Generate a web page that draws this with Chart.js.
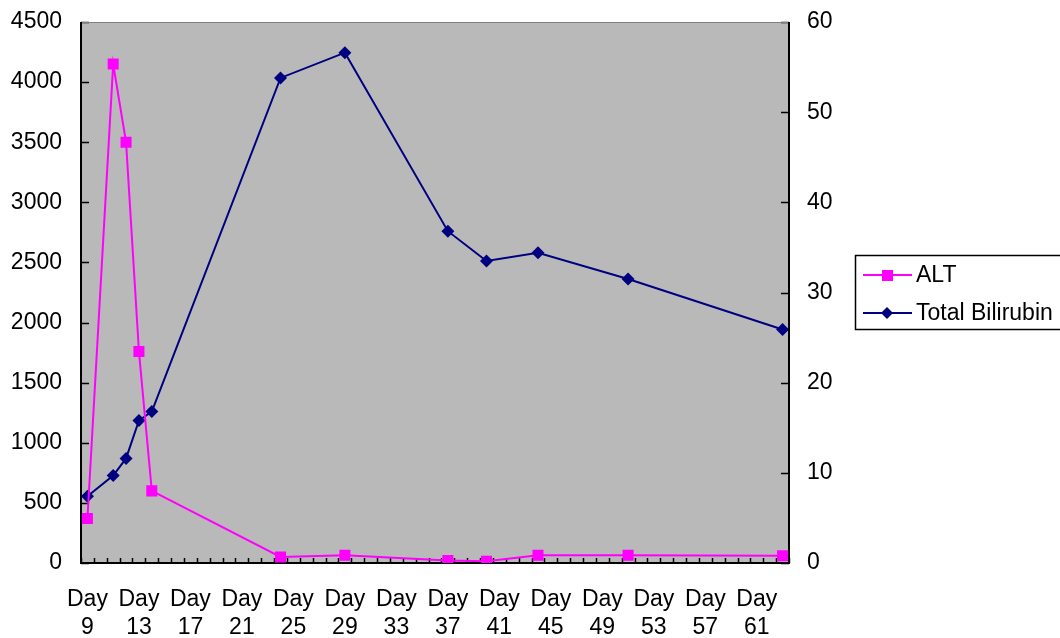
<!DOCTYPE html>
<html>
<head>
<meta charset="utf-8">
<script src="https://cdn.jsdelivr.net/npm/chart.js@4/dist/chart.umd.min.js"></script>
<style>
  html, body { margin: 0; padding: 0; background: #fff; }
</style>
</head>
<body>
<canvas id="myChart" width="1060" height="638"></canvas>
<script>
// x categories: one per day, Day 9 .. Day 63, labelled every 4th
const firstDay = 9
const lastDay = 63
const dayLabels = []
for (let d = firstDay; d <= lastDay; d++) dayLabels.push("Day " + d)

const sampleDays = [9, 11, 12, 13, 14, 24, 29, 37, 40, 44, 51, 63]
const altValues = [370, 4150, 3500, 1760, 600, 50, 65, 20, 15, 65, 65, 60]
const bilirubinValues = [7.4, 9.7, 11.6, 15.8, 16.8, 53.8, 56.6, 36.8, 33.5, 34.4, 31.5, 25.9]

const seriesNames = ["ALT", "Total Bilirubin"]
const seriesColors = ["#ff00ff", "#000080"]

const FONT = "'Liberation Sans', Arial, sans-serif"

const toPoints = values => values.map((v, i) => ({ x: "Day " + sampleDays[i], y: v }))

// gray plot area, inside tick marks, frame and the boxed legend
const frame = {
  id: "frame",
  beforeDraw(chart) {
    const { ctx, chartArea: a } = chart
    ctx.save()
    ctx.fillStyle = "#b9b9b9"
    ctx.fillRect(a.left, a.top, a.right - a.left, a.bottom - a.top)
    ctx.restore()
  },
  beforeDatasetsDraw(chart) {
    const { ctx, chartArea: a, scales } = chart
    ctx.save()
    ctx.strokeStyle = "#000"
    ctx.lineWidth = 1.5
    ctx.beginPath()
    scales.y.ticks.forEach(t => {
      const py = Math.round(scales.y.getPixelForValue(t.value)) + 0.5
      ctx.moveTo(a.left, py); ctx.lineTo(a.left + 8, py)
    })
    scales.y1.ticks.forEach(t => {
      const py = Math.round(scales.y1.getPixelForValue(t.value)) + 0.5
      ctx.moveTo(a.right - 8, py); ctx.lineTo(a.right, py)
    })
    const n = dayLabels.length
    const half = (scales.x.getPixelForValue(1) - scales.x.getPixelForValue(0)) / 2
    for (let i = 0; i <= n; i++) {
      const px = Math.round(i < n ? scales.x.getPixelForValue(i) - half : scales.x.getPixelForValue(n - 1) + half) + 0.5
      ctx.moveTo(px, a.bottom - 5); ctx.lineTo(px, a.bottom)
    }
    ctx.stroke()

    ctx.strokeStyle = "#808080"
    ctx.lineWidth = 1
    ctx.beginPath()
    ctx.moveTo(a.left, a.top + 0.5); ctx.lineTo(a.right, a.top + 0.5)
    ctx.stroke()

    ctx.strokeStyle = "#000"
    ctx.lineWidth = 2
    ctx.beginPath()
    ctx.moveTo(a.left, a.top); ctx.lineTo(a.left, a.bottom)
    ctx.lineTo(a.right, a.bottom); ctx.lineTo(a.right, a.top)
    ctx.stroke()
    ctx.restore()
  },
  afterDraw(chart) {
    const ctx = chart.ctx
    ctx.save()
    ctx.strokeStyle = "#000"
    ctx.lineWidth = 1.5
    ctx.strokeRect(855.5, 255.5, 240, 74)
    ctx.font = "23px " + FONT
    ctx.textBaseline = "middle"
    ctx.fillStyle = "#000"
    const rows = [275, 313]
    chart.data.datasets.forEach((ds, i) => {
      const y = rows[i]
      ctx.strokeStyle = ds.borderColor
      ctx.lineWidth = 2
      ctx.beginPath(); ctx.moveTo(863, y); ctx.lineTo(912, y); ctx.stroke()
      ctx.fillStyle = ds.backgroundColor
      ctx.beginPath()
      if (i === 0) {
        ctx.rect(882, y - 5, 11, 11)
      } else {
        ctx.moveTo(887, y - 6); ctx.lineTo(893, y); ctx.lineTo(887, y + 6); ctx.lineTo(881, y)
        ctx.closePath()
      }
      ctx.fill()
      ctx.fillStyle = "#000"
      ctx.fillText(ds.label, 916, y + 1)
    })
    ctx.restore()
  }
}

const plainNumber = v => String(v)
const fixWidth = w => scale => {
  scale.width = w
  scale.paddingTop = 0
  scale.paddingBottom = 0
}

new Chart(document.getElementById("myChart").getContext("2d"), {
  type: "line",
  data: {
    labels: dayLabels,
    datasets: [
      {
        label: seriesNames[0],
        data: toPoints(altValues),
        yAxisID: "y",
        borderColor: seriesColors[0],
        backgroundColor: seriesColors[0],
        borderWidth: 2,
        pointStyle: "rect",
        pointRadius: 7.8,
        pointBorderWidth: 0,
        tension: 0
      },
      {
        label: seriesNames[1],
        data: toPoints(bilirubinValues),
        yAxisID: "y1",
        borderColor: seriesColors[1],
        backgroundColor: seriesColors[1],
        borderWidth: 2,
        pointStyle: "rectRot",
        pointRadius: 6.5,
        pointBorderWidth: 0,
        tension: 0
      }
    ]
  },
  options: {
    responsive: false,
    animation: false,
    devicePixelRatio: 1,
    layout: { padding: { top: 22, left: 0, right: 0, bottom: 0 } },
    plugins: { legend: { display: false }, tooltip: { enabled: false } },
    scales: {
      x: {
        type: "category",
        offset: true,
        grid: { display: false, drawTicks: false },
        border: { display: false },
        afterFit: scale => {
          scale.height = 75
          scale.paddingLeft = 0
          scale.paddingRight = 0
        },
        ticks: {
          autoSkip: false,
          maxRotation: 0,
          padding: 22,
          color: "#000",
          font: { family: FONT, size: 23, lineHeight: 1.25 },
          callback: (val, i) => (i % 4 === 0 ? dayLabels[i].split(" ") : "")
        }
      },
      y: {
        position: "left",
        min: 0,
        max: 4500,
        grid: { display: false, drawTicks: false },
        border: { display: false },
        afterFit: fixWidth(81),
        ticks: { stepSize: 500, padding: 19, color: "#000", font: { family: FONT, size: 23 }, callback: plainNumber }
      },
      y1: {
        position: "right",
        min: 0,
        max: 60,
        grid: { display: false, drawTicks: false },
        border: { display: false },
        afterFit: fixWidth(271),
        ticks: { stepSize: 10, padding: 18, color: "#000", font: { family: FONT, size: 23 }, callback: plainNumber }
      }
    }
  },
  plugins: [frame]
})
</script>
</body>
</html>
